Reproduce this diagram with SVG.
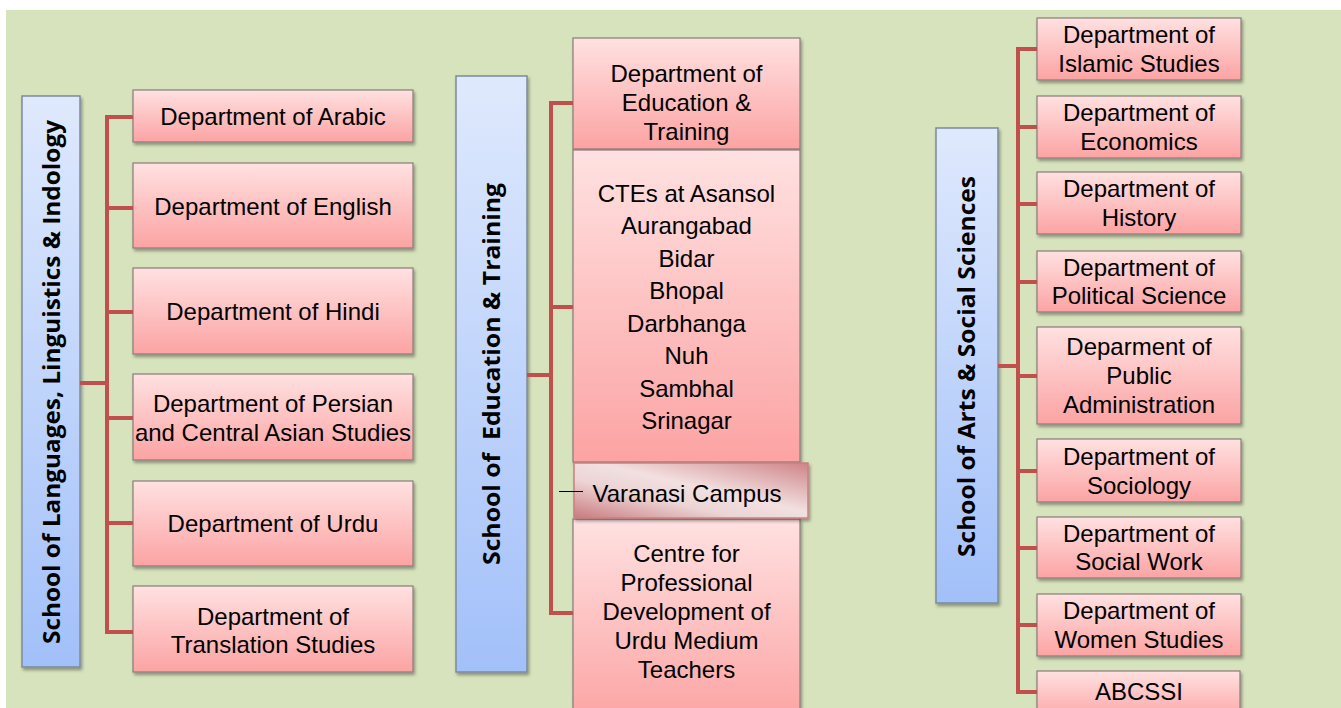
<svg xmlns="http://www.w3.org/2000/svg" width="1341" height="708" viewBox="0 0 1341 708">
<defs>
<linearGradient id="pink" x1="0" y1="0" x2="0" y2="1">
<stop offset="0" stop-color="#ffe1e1"/>
<stop offset="1" stop-color="#fca3a3"/>
</linearGradient>
<linearGradient id="blue" x1="0" y1="0" x2="0" y2="1">
<stop offset="0" stop-color="#dfe9fd"/>
<stop offset="1" stop-color="#a2c0f9"/>
</linearGradient>
<linearGradient id="varanasi" x1="0" y1="1" x2="1" y2="0">
<stop offset="0" stop-color="#c97a7e"/>
<stop offset="0.35" stop-color="#ecd4d5"/>
<stop offset="0.55" stop-color="#f2e0e0"/>
<stop offset="1" stop-color="#cf8488"/>
</linearGradient>
<filter id="sh" x="-10%" y="-10%" width="130%" height="130%">
<feDropShadow dx="1.5" dy="2.5" stdDeviation="1.5" flood-color="#000" flood-opacity="0.35"/>
</filter>
</defs>
<style>
.dept{fill:url(#pink);stroke:#8c7b7b;stroke-width:1.2;filter:url(#sh)}
.school{fill:url(#blue);stroke:#7d8a9a;stroke-width:1.5;filter:url(#sh)}
.t{font-family:"Liberation Sans",Arial,sans-serif;font-size:24px;fill:#000;text-anchor:middle}
.st{font-family:"Open Sans","Liberation Sans",sans-serif;font-size:24px;font-weight:bold;fill:#000;text-anchor:middle}
.c{fill:none;stroke:#c0504d;stroke-width:4}
</style>
<rect x="0" y="0" width="1341" height="708" fill="#ffffff"/>
<rect x="6" y="10" width="1335" height="698" fill="#d7e3bd"/>

<g id="school-languages">
<rect class="school" x="22" y="96" width="58" height="571"/>
<text class="st" transform="translate(59.5 382) rotate(-90)" textLength="524" lengthAdjust="spacingAndGlyphs">School of Languages, Linguistics &amp; Indology</text>
</g>
<g id="dept-arabic"><rect class="dept" x="133" y="90" width="280" height="52"/><text class="t" x="273" y="124.5">Department of Arabic</text></g>
<g id="dept-english"><rect class="dept" x="133" y="163" width="280" height="85"/><text class="t" x="273" y="214.5">Department of English</text></g>
<g id="dept-hindi"><rect class="dept" x="133" y="268" width="280" height="86"/><text class="t" x="273" y="320">Department of Hindi</text></g>
<g id="dept-persian"><rect class="dept" x="133" y="374" width="280" height="86"/><text class="t" x="273" y="411.5">Department of Persian</text><text class="t" x="273" y="440.5">and Central Asian Studies</text></g>
<g id="dept-urdu"><rect class="dept" x="133" y="481" width="280" height="85"/><text class="t" x="273" y="532">Department of Urdu</text></g>
<g id="dept-translation"><rect class="dept" x="133" y="586" width="280" height="86"/><text class="t" x="273" y="624.5">Department of</text><text class="t" x="273" y="652.5">Translation Studies</text></g>

<g id="school-education">
<rect class="school" x="456" y="76" width="71" height="596"/>
<text class="st" transform="translate(500 374) rotate(-90)" textLength="382" lengthAdjust="spacingAndGlyphs" xml:space="preserve" style="white-space:pre">School of  Education &amp; Training</text>
</g>
<g id="dept-education"><rect class="dept" x="573" y="38" width="227" height="111"/><text class="t" x="686.5" y="82">Department of</text><text class="t" x="686.5" y="111">Education &amp;</text><text class="t" x="686.5" y="139.5">Training</text></g>
<g id="ctes"><rect class="dept" x="573" y="150" width="227" height="312"/>
<text class="t" x="686.5" y="201.5">CTEs at Asansol</text>
<text class="t" x="686.5" y="234">Aurangabad</text>
<text class="t" x="686.5" y="266.5">Bidar</text>
<text class="t" x="686.5" y="299">Bhopal</text>
<text class="t" x="686.5" y="331.5">Darbhanga</text>
<text class="t" x="686.5" y="364">Nuh</text>
<text class="t" x="686.5" y="396.5">Sambhal</text>
<text class="t" x="686.5" y="429">Srinagar</text>
</g>
<g id="centre-pd"><rect class="dept" x="573" y="519" width="227" height="205"/>
<text class="t" x="686.5" y="562">Centre for</text>
<text class="t" x="686.5" y="591">Professional</text>
<text class="t" x="686.5" y="620">Development of</text>
<text class="t" x="686.5" y="649">Urdu Medium</text>
<text class="t" x="686.5" y="678">Teachers</text>
</g>
<g id="varanasi-campus"><rect x="574" y="463" width="234" height="55" fill="url(#varanasi)" stroke="#c98080" stroke-width="1.5" filter="url(#sh)"/><text class="t" x="687" y="502">Varanasi Campus</text></g>

<g id="school-arts">
<rect class="school" x="936" y="128" width="62" height="475"/>
<text class="st" transform="translate(975 366.5) rotate(-90)" textLength="381" lengthAdjust="spacingAndGlyphs">School of Arts &amp; Social Sciences</text>
</g>
<g id="dept-islamic"><rect class="dept" x="1037" y="18" width="204" height="62"/><text class="t" x="1139" y="43">Department of</text><text class="t" x="1139" y="72">Islamic Studies</text></g>
<g id="dept-economics"><rect class="dept" x="1037" y="96" width="204" height="62"/><text class="t" x="1139" y="120.5">Department of</text><text class="t" x="1139" y="149.5">Economics</text></g>
<g id="dept-history"><rect class="dept" x="1037" y="172" width="204" height="62"/><text class="t" x="1139" y="197">Department of</text><text class="t" x="1139" y="226">History</text></g>
<g id="dept-political"><rect class="dept" x="1037" y="251" width="204" height="61"/><text class="t" x="1139" y="275.5">Department of</text><text class="t" x="1139" y="304">Political Science</text></g>
<g id="dept-public"><rect class="dept" x="1037" y="327" width="204" height="97"/><text class="t" x="1139" y="355">Deparment of</text><text class="t" x="1139" y="384">Public</text><text class="t" x="1139" y="413">Administration</text></g>
<g id="dept-sociology"><rect class="dept" x="1037" y="439" width="204" height="63"/><text class="t" x="1139" y="464.5">Department of</text><text class="t" x="1139" y="493.5">Sociology</text></g>
<g id="dept-socialwork"><rect class="dept" x="1037" y="517" width="204" height="61"/><text class="t" x="1139" y="541.5">Department of</text><text class="t" x="1139" y="570">Social Work</text></g>
<g id="dept-women"><rect class="dept" x="1037" y="594" width="204" height="62"/><text class="t" x="1139" y="619">Department of</text><text class="t" x="1139" y="647.5">Women Studies</text></g>
<g id="abcssi"><rect class="dept" x="1037" y="671" width="203" height="50"/><text class="t" x="1139" y="699.5">ABCSSI</text></g>

<g id="connectors">
<path class="c" d="M80 383H107M133 117H107V632H133M107 208H133M107 312H133M107 418H133M107 523H133"/>
<path class="c" d="M527 375H551M573 103H551V613H573M551 307H573"/>
<line x1="559" y1="491.5" x2="583" y2="491.5" stroke="#000" stroke-width="1"/>
<path class="c" d="M998 366H1018M1037 49H1018V692H1037M1018 127H1037M1018 204H1037M1018 282H1037M1018 376H1037M1018 471H1037M1018 548H1037M1018 625H1037"/>
</g>
</svg>
